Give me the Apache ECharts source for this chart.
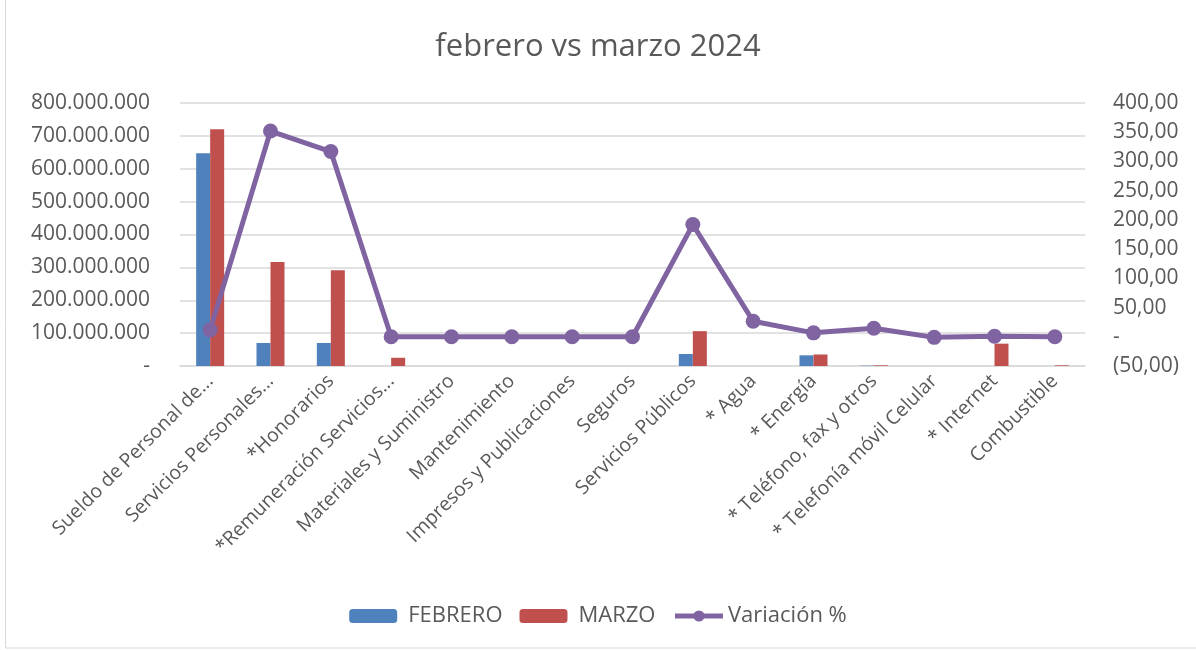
<!DOCTYPE html>
<html>
<head>
<meta charset="utf-8">
<title>febrero vs marzo 2024</title>
<script src="https://cdn.jsdelivr.net/npm/echarts@6/dist/echarts.min.js"></script>
<style>
  html, body { margin: 0; padding: 0; background: #fff; }
  #chart { width: 1196px; height: 650px; }
</style>
</head>
<body>
<div id="chart"></div>
<script>
// datos
var categorias = ['Sueldo de Personal de...', 'Servicios Personales...', '*Honorarios', '*Remuneración Servicios...',
  'Materiales y Suministro', 'Mantenimiento', 'Impresos y Publicaciones', 'Seguros', 'Servicios Públicos',
  '* Agua', '* Energía', '* Teléfono, fax y otros', '* Telefonía móvil Celular', '* Internet', 'Combustible'];
var febrero = [647000000, 70000000, 70000000, 0, 0, 0, 0, 0, 36500000, 0, 32500000, 1000000, 0, 0, 0];
var marzo = [720000000, 316000000, 291000000, 25000000, 0, 0, 0, 0, 106000000, 0, 35000000, 2000000, 0, 68000000, 2000000];
var variacion = [11.8, 352, 317, 0, 0, 0, 0, 0, 192, 26.6, 6.7, 14.6, -1, 0.9, 0];

var fuente = 'Open Sans';
var gris = '#595959';

function fmtPesos(v) {
  if (v === 0) return '-';
  return String(v).replace(/\B(?=(\d{3})+(?!\d))/g, '.');
}
function fmtPct(v) {
  if (v === 0) return '-';
  var s = Math.abs(v).toFixed(2).replace('.', ',');
  return v < 0 ? '(' + s + ')' : s;
}

var myChart = echarts.init(document.getElementById('chart'));
option = {
  backgroundColor: '#fff',
  animation: false,
  title: {
    text: 'febrero vs marzo 2024',
    left: 'center',
    top: 27,
    textStyle: { fontFamily: fuente, fontSize: 31, fontWeight: 'normal', color: gris }
  },
  legend: {
    top: 600,
    left: 'center',
    itemWidth: 48,
    itemHeight: 14,
    itemGap: 17,
    textStyle: { fontFamily: fuente, fontSize: 22, color: gris },
    data: [
      { name: 'FEBRERO', textStyle: { padding: [0, 0, 0, 6] } },
      { name: 'MARZO', textStyle: { padding: [0, 0, 0, 6] } },
      { name: 'Variación %', lineStyle: { width: 5 } }
    ]
  },
  grid: { left: 180, right: 111, top: 103, bottom: 284 },
  xAxis: {
    type: 'category',
    data: categorias,
    axisLine: { lineStyle: { color: '#D9D9D9', width: 1.5 } },
    axisTick: { show: false },
    axisLabel: {
      rotate: 45,
      interval: 0,
      margin: 12,
      padding: [16, 0, 0, 0],
      fontFamily: fuente,
      fontSize: 19.5,
      color: gris
    }
  },
  yAxis: [
    {
      type: 'value',
      min: 0,
      max: 800000000,
      interval: 100000000,
      axisLine: { show: false },
      axisTick: { show: false },
      splitLine: { lineStyle: { color: '#D9D9D9', width: 1.5 } },
      axisLabel: { margin: 30, fontFamily: fuente, fontSize: 21, color: gris, formatter: fmtPesos }
    },
    {
      type: 'value',
      min: -50,
      max: 400,
      interval: 50,
      axisLine: { show: false },
      axisTick: { show: false },
      splitLine: { show: false },
      axisLabel: { margin: 28, fontFamily: fuente, fontSize: 21, color: gris, formatter: fmtPct }
    }
  ],
  series: [
    {
      name: 'FEBRERO',
      type: 'bar',
      barWidth: 14,
      barGap: '0%',
      itemStyle: { color: '#4F81BD' },
      data: febrero
    },
    {
      name: 'MARZO',
      type: 'bar',
      barWidth: 14,
      itemStyle: { color: '#C0504D' },
      data: marzo
    },
    {
      name: 'Variación %',
      type: 'line',
      yAxisIndex: 1,
      symbol: 'circle',
      symbolSize: 15,
      z: 5,
      lineStyle: { color: '#8064A2', width: 5 },
      itemStyle: { color: '#8064A2' },
      data: variacion
    }
  ],
  graphic: [
    {
      type: 'rect',
      shape: { x: 5.5, y: -2, width: 1200, height: 650 },
      style: { fill: 'none', stroke: '#D9D9D9', lineWidth: 1 },
      silent: true
    }
  ]
};
myChart.setOption(option);
</script>
</body>
</html>
